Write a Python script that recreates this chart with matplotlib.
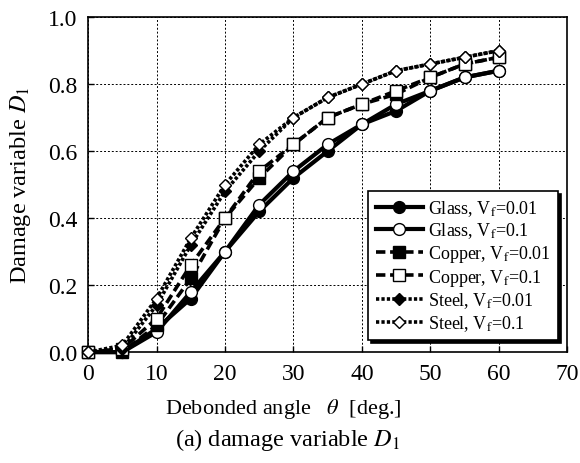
#! /bin/env python3

import matplotlib
matplotlib.use("Agg")
import matplotlib.pyplot as plt

plt.rcParams["font.family"] = ["Liberation Serif", "DejaVu Serif"]
plt.rcParams["mathtext.fontset"] = "stix"

# debonded angle [deg.]
theta = [0, 5, 10, 15, 20, 25, 30, 35, 40, 45, 50, 55, 60]

# damage variable D1 for each material / fiber volume fraction
glass_001 = [0.0, 0.0, 0.07, 0.16, 0.30, 0.42, 0.52, 0.60, 0.68, 0.72, 0.78, 0.82, 0.84]
glass_01 = [0.0, 0.0, 0.06, 0.18, 0.30, 0.44, 0.54, 0.62, 0.68, 0.74, 0.78, 0.82, 0.84]
copper_001 = [0.0, 0.0, 0.08, 0.22, 0.40, 0.52, 0.62, 0.70, 0.74, 0.77, 0.82, 0.86, 0.88]
copper_01 = [0.0, 0.01, 0.10, 0.26, 0.40, 0.54, 0.62, 0.70, 0.74, 0.78, 0.82, 0.86, 0.88]
steel_001 = [0.0, 0.01, 0.14, 0.32, 0.48, 0.60, 0.70, 0.76, 0.80, 0.84, 0.86, 0.88, 0.90]
steel_01 = [0.0, 0.02, 0.16, 0.34, 0.50, 0.62, 0.70, 0.76, 0.80, 0.84, 0.86, 0.88, 0.90]

labels = [
    r"Glass, V$_\mathrm{f}$=0.01",
    r"Glass, V$_\mathrm{f}$=0.1",
    r"Copper, V$_\mathrm{f}$=0.01",
    r"Copper, V$_\mathrm{f}$=0.1",
    r"Steel, V$_\mathrm{f}$=0.01",
    r"Steel, V$_\mathrm{f}$=0.1",
]


def main():
    fig = plt.figure(figsize=(5.8, 4.64), dpi=100)
    ax = fig.add_axes([0.152, 0.239, 0.826, 0.722])

    series = [glass_001, glass_01, copper_001, copper_01, steel_001, steel_01]
    styles = [
        ("-", "o", "black", 3.0, 8.5),
        ("-", "o", "white", 3.0, 8.5),
        ((0, (2.6, 1.3)), "s", "black", 2.6, 8.5),
        ((0, (2.6, 1.3)), "s", "white", 2.6, 8.5),
        ((0, (0.9, 0.6)), "D", "black", 2.6, 6.5),
        ((0, (0.9, 0.6)), "D", "white", 2.6, 6.5),
    ]
    for y, lab, (ls, mk, fc, lw, ms) in zip(series, labels, styles):
        ax.plot(theta, y, linestyle=ls, marker=mk, color="black",
                markerfacecolor=fc, markeredgecolor="black", markeredgewidth=1.0,
                linewidth=lw, markersize=ms, label=lab, clip_on=False, zorder=3)

    ax.set_xlim(0, 70)
    ax.set_ylim(0, 1.0)
    ax.set_xticks(range(0, 71, 10))
    ax.set_yticks([0.0, 0.2, 0.4, 0.6, 0.8, 1.0])
    ax.set_yticklabels(["0.0", "0.2", "0.4", "0.6", "0.8", "1.0"])
    ax.tick_params(labelsize=17, length=4, width=1.0, direction="in", pad=8)
    ax.grid(True, color="black", linestyle=(0, (2, 2)), linewidth=0.7)
    for sp in ax.spines.values():
        sp.set_linewidth(1.2)

    ax.set_xlabel(r"Debonded angle   $\theta$  [deg.]", fontsize=16)
    ax.xaxis.set_label_coords(0.408, -0.13)
    ylab = ax.set_ylabel(r"Damage variable $D_1$", fontsize=17.5)
    ylab.set_va("center")
    ax.yaxis.set_label_coords(-0.142, 0.5)

    leg = ax.legend(loc="lower right", bbox_to_anchor=(0.981, 0.036), fontsize=13,
                    frameon=True, fancybox=False, edgecolor="black", framealpha=1,
                    shadow={"color": "black", "alpha": 1.0},
                    handlelength=2.6, handletextpad=0.3, labelspacing=0.15,
                    borderpad=0.4, borderaxespad=0)
    leg.get_frame().set_linewidth(1.2)
    leg.set_zorder(5)

    fig.text(0.496, 0.052, r"(a) damage variable $D_1$", ha="center", va="center",
             fontsize=17.5)

    fig.savefig("out.png", dpi=100)


if __name__ == "__main__":
    main()
